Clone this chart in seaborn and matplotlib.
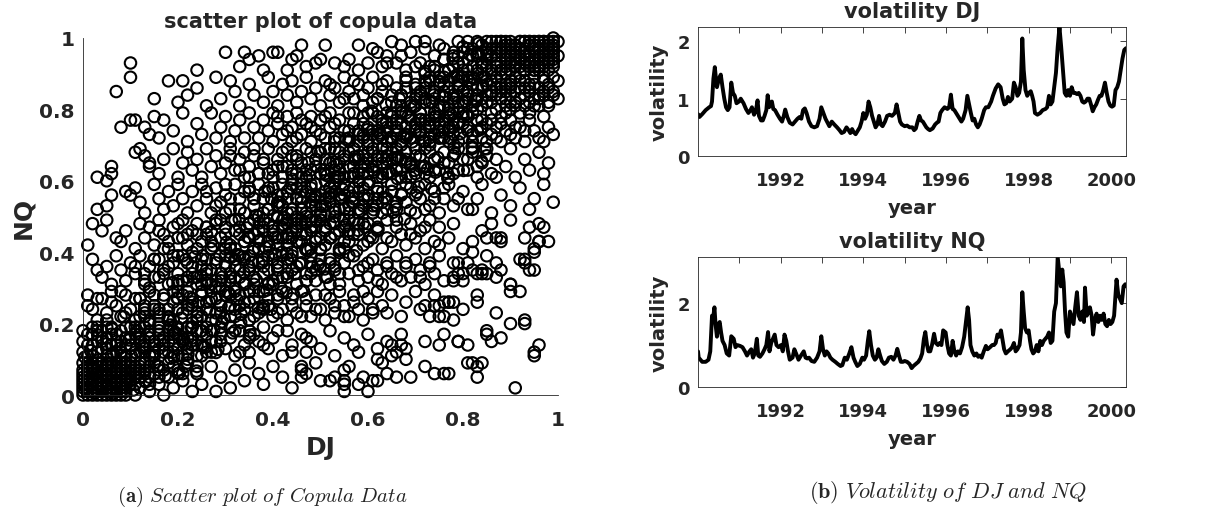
import matplotlib
matplotlib.use("Agg")
import matplotlib.pyplot as plt
import numpy as np
import pandas as pd
import seaborn as sns

# ---- copula sample (DJ, NQ) in percent, one string per NQ band
copula_bands = [
    # NQ 0.9 - 1.0
    "10,93 24,91 30,96 34,96 37,95 40,96 41,96 44,94 45,95 46,98 33,92 38,91 35,94 43,91 47,92 49,93 "
    "51,98 50,94 53,93 55,92 56,94 58,98 58,91 60,93 62,96 63,92 64,95 65,99 66,93 67,98 68,91 69,96 "
    "70,99 71,93 72,97 73,92 74,95 75,98 76,94 77,91 78,96 79,99 80,93 81,97 82,95 83,99 83,91 84,93 "
    "85,97 86,95 86,91 87,99 88,93 88,97 89,95 90,91 90,98 91,94 91,96 92,92 92,99 93,95 93,97 94,93 "
    "94,98 95,91 95,96 96,94 96,99 97,92 97,97 98,95 98,93 99,99 99,96 96,97 95,98 94,95 93,99 92,95 "
    "91,98 89,92 90,96 97,95 98,98 99,94 99,92 96,92 95,94",
    "61,97 64,93 67,95 70,92 72,99 74,91 76,97 78,92 79,95 81,91 81,99 83,96 84,92 85,94 85,99 86,97 "
    "87,92 87,95 88,91 88,99 89,94 89,97 90,93 90,95 91,92 91,97 92,94 92,97 93,91 93,93 94,96 94,99 "
    "95,93 95,97 96,91 96,95 97,94 97,99 98,91 98,96 99,93 99,97 100,95 100,99 97,96 95,92 93,96 91,93 "
    "89,99 87,97",
    # NQ 0.8 - 0.9
    "10,89 07,85 18,88 21,88 28,89 31,88 15,83 20,82 22,84 24,86 26,81 29,83 32,85 33,81 35,87 36,84 "
    "38,82 39,89 40,85 41,81 42,87 43,84 44,88 45,82 46,85 47,89 48,83 49,86 50,81 51,88 52,84 53,86 "
    "54,82 55,89 56,85 57,83 58,87 59,81 60,86 61,89 62,83 63,85 64,88 65,82 66,86 67,84 68,89 69,81 "
    "70,87 71,84 72,86 72,82 73,89 74,83 75,87 76,85 77,81 77,88 78,84 79,86 80,82 80,89 81,85 82,87 "
    "82,81 83,84 84,89 84,86 85,82 86,88 86,84 87,80 87,86 88,89 88,83 89,85 89,81 90,87 90,84 91,89 "
    "91,82 92,86 92,83 93,88 93,81 94,85 94,87 95,83 95,89 96,86 96,81 97,84 97,88 98,82 98,86 99,89 "
    "99,84 96,84 94,82 90,80 88,86",
    "52,87 55,83 57,88 59,84 61,82 63,87 65,84 67,81 68,86 70,83 72,88 74,85 75,81 76,89 78,82 79,87 "
    "80,85 81,83 82,89 83,86 84,81 85,87 85,84 86,82 87,89 88,85 89,87 89,83 90,86 91,81 91,85 92,88 "
    "93,84 94,86 95,81 95,87 96,83 97,89 97,85 98,81 98,87 99,85 100,83 100,88 93,86 90,82",
    # NQ 0.7 - 0.8
    "08,75 10,77 11,77 15,78 17,77 13,75 14,73 16,72 19,74 21,79 22,71 24,76 25,73 27,79 28,72 29,75 "
    "30,78 31,71 32,74 33,77 34,72 35,79 36,75 37,72 38,77 39,74 40,71 40,79 41,76 42,73 43,78 44,71 "
    "44,75 45,79 46,73 47,76 48,71 48,78 49,74 50,77 51,72 52,79 52,75 53,71 54,77 55,74 56,79 56,72 "
    "57,76 58,73 59,78 60,71 60,75 61,79 62,74 63,77 63,72 64,75 65,79 66,73 66,77 67,71 68,75 69,78 "
    "69,72 70,76 71,79 71,73 72,75 73,77 73,71 74,79 75,74 75,72 76,77 77,75 77,71 78,79 78,73 79,76 "
    "80,72 80,78 81,75 82,71 82,79 83,74 84,77 84,72 85,76 86,79 86,73 87,75 88,71 88,78 89,74 90,77 "
    "91,72 92,79 92,75 93,71 94,77 95,74 96,72 97,78 98,75 99,73 97,71",
    "41,78 43,74 45,72 46,77 48,75 50,73 51,78 53,76 54,72 56,74 57,79 58,71 59,76 61,73 62,78 64,71 "
    "65,76 66,74 67,79 68,72 70,74 71,77 72,71 73,75 74,78 75,76 76,72 77,79 78,75 79,71 80,76 81,78 "
    "82,73 83,77 84,75 85,71 86,77 87,72 88,76 89,79 90,73 91,75 93,74 94,79",
    # NQ 0.6 - 0.7
    "06,64 06,62 03,61 12,69 13,67 14,65 11,68 14,64 16,62 17,66 19,69 20,61 21,65 22,68 23,63 24,66 "
    "25,61 26,69 27,64 28,67 29,62 30,65 31,69 32,63 33,66 34,61 34,68 35,64 36,67 37,62 38,65 39,69 "
    "40,63 41,66 42,61 42,68 43,64 44,67 45,62 46,65 47,69 47,61 48,63 49,66 50,68 51,62 52,65 53,69 "
    "53,61 54,63 55,67 56,64 57,61 57,69 58,66 59,62 60,68 61,64 62,61 62,67 63,65 64,69 65,62 66,66 "
    "67,63 68,68 68,61 69,65 70,62 71,67 72,64 72,69 73,61 74,66 75,63 76,68 77,61 77,65 78,62 79,69 "
    "80,66 81,63 82,68 83,61 84,65 85,69 86,62 87,66 89,64 90,69 91,61 93,66 94,63 96,68 97,62 98,65",
    "31,67 33,63 35,61 36,69 38,66 39,62 41,64 43,69 44,63 45,66 46,61 48,68 49,64 50,62 51,66 52,69 "
    "54,65 55,61 56,68 57,64 58,62 59,67 60,64 61,69 63,62 64,66 65,68 66,63 67,66 69,61 70,67 71,64 "
    "72,62 73,68 74,63 76,65 78,67 79,63 81,66 83,64 85,67 87,61",
    # NQ 0.5 - 0.6
    "05,60 06,56 09,57 10,56 05,53 03,52 11,58 12,54 13,51 15,59 16,55 17,52 18,57 19,53 20,59 21,55 "
    "22,51 23,57 24,53 25,59 26,55 27,51 28,58 29,54 30,56 31,52 32,59 33,55 34,51 35,57 36,53 37,59 "
    "38,55 39,52 40,58 41,54 42,56 43,51 44,59 45,55 46,52 47,57 48,53 48,59 49,56 50,51 51,57 52,54 "
    "53,59 54,52 55,56 56,53 57,58 58,51 59,55 60,59 61,53 62,57 63,51 64,55 65,59 66,52 67,56 68,54 "
    "69,58 70,51 71,55 72,59 73,53 74,57 75,51 76,55 77,59 78,53 80,57 81,52 83,55 84,59 86,51 88,56 "
    "90,53 92,58 94,52 95,55 97,59 99,54",
    "26,57 28,53 30,59 31,55 33,52 35,58 36,55 38,51 39,57 41,53 42,59 43,55 44,52 45,58 46,54 47,51 "
    "48,56 49,59 50,53 51,55 52,58 53,52 54,56 55,59 56,51 57,54 58,57 59,53 60,56 61,51 62,55 64,52 "
    "65,57 66,54 68,59 70,56 72,52 74,55 76,58 79,55 82,52",
    # NQ 0.4 - 0.5
    "02,48 01,42 04,46 07,44 05,49 08,43 09,46 11,41 12,48 13,44 14,47 15,42 16,49 17,45 18,41 19,47 "
    "20,44 21,49 22,42 23,46 24,48 25,43 26,45 27,41 28,48 29,44 30,47 31,42 32,49 33,45 34,43 35,48 "
    "36,41 37,46 38,49 39,43 40,47 41,44 42,49 43,42 44,46 45,48 46,43 47,45 48,41 48,49 49,47 50,44 "
    "51,42 52,48 53,45 54,41 55,47 56,43 57,49 58,45 59,42 60,48 61,44 62,46 63,41 64,49 65,43 66,47 "
    "67,45 68,42 69,48 70,44 71,46 72,41 73,49 74,43 75,47 77,44 78,48 80,41 82,43 84,46 86,48 87,44 "
    "88,43 90,49 93,44 95,41 96,43 97,47 98,43",
    "16,46 18,43 20,48 22,45 24,41 26,47 27,43 29,49 30,45 32,41 33,47 35,44 36,49 37,43 38,46 39,48 "
    "40,45 41,42 42,47 43,49 43,45 44,44 45,47 46,49 46,45 47,48 48,46 49,43 50,49 51,46 52,44 53,48 "
    "55,43 56,46 58,48 60,43 62,47 64,44 66,49 69,45 72,47 75,42",
    # NQ 0.3 - 0.4
    "02,38 03,35 05,36 06,31 04,33 07,39 08,35 09,32 10,37 11,34 12,39 13,31 14,36 15,33 16,38 17,35 "
    "18,31 19,37 20,34 21,39 22,32 23,36 24,33 25,38 26,35 27,31 28,37 29,34 30,39 31,32 32,36 33,33 "
    "34,38 35,35 36,31 37,37 38,34 39,39 40,32 41,36 42,33 43,38 44,35 45,31 46,37 47,34 48,39 49,32 "
    "50,36 51,33 52,38 53,35 54,31 55,37 56,34 57,39 58,32 59,36 60,33 61,38 62,35 63,31 64,37 65,34 "
    "66,39 67,32 68,36 69,33 70,38 71,35 72,31 73,37 74,34 75,39 76,32 78,37 79,34 80,32 82,35 84,34 "
    "85,39 87,37 88,35 90,31 92,38 93,37 94,35",
    "11,36 13,32 15,38 17,34 19,39 20,32 22,37 23,34 25,31 26,38 27,35 29,32 30,37 31,34 33,39 34,31 "
    "35,36 36,33 38,38 39,35 40,31 41,37 43,34 44,39 45,36 47,32 48,37 49,35 50,38 52,31 53,36 54,34 "
    "56,39 58,35 60,37 62,32 64,36 66,33 68,37 71,33 73,36",
    # NQ 0.2 - 0.3
    "01,28 02,24 03,21 04,27 05,23 06,29 07,25 08,22 09,28 10,24 11,21 12,27 13,23 14,29 15,25 16,22 "
    "17,28 18,24 19,21 20,27 21,23 22,29 23,25 24,22 25,28 26,24 27,21 28,27 29,23 30,29 31,25 32,22 "
    "33,28 34,24 35,21 36,27 37,23 38,29 39,25 40,22 41,28 42,24 43,21 44,27 45,23 46,29 47,25 48,22 "
    "49,28 50,24 51,21 52,27 53,23 54,29 55,25 56,22 57,28 58,24 59,21 60,27 61,23 62,29 63,25 65,28 "
    "67,22 68,26 70,29 71,24 72,25 74,28 75,22 77,26 78,21 80,24 83,28 83,26 87,23 90,29 92,29",
    "01,25 03,27 05,21 06,26 08,29 09,23 11,27 12,22 13,25 15,28 16,24 18,21 19,26 20,29 22,24 23,27 "
    "24,21 26,26 27,29 28,23 29,25 31,28 32,24 34,26 35,29 36,22 38,25 39,27 41,23 42,29 44,25 46,22 "
    "47,27 49,24 51,28 53,25 55,22 57,26 59,29 61,24 64,23",
    # NQ 0.1 - 0.2
    "00,12 01,17 01,14 02,19 02,11 03,15 03,18 04,13 04,16 05,11 05,19 06,14 06,17 07,12 07,15 08,18 "
    "08,11 09,14 09,16 10,19 10,13 11,11 11,17 12,15 12,12 13,19 13,14 14,17 14,11 15,15 16,13 16,19 "
    "17,16 18,12 18,18 19,14 20,17 20,11 21,15 22,19 22,13 23,16 24,11 25,18 25,14 26,17 27,12 28,15 "
    "29,19 30,13 31,16 32,11 33,18 34,14 35,12 36,17 37,15 38,19 39,13 40,16 42,11 43,18 44,14 46,17 "
    "47,12 48,15 50,13 52,18 53,11 55,16 57,14 58,12 60,17 62,13 64,15 65,11 66,12 67,14 72,15 75,14 "
    "79,15 81,14 85,17 86,15 88,16 96,14 95,11",
    "00,15 00,18 01,11 02,14 02,17 03,12 03,19 04,15 04,18 05,13 05,16 06,11 06,19 07,14 07,17 08,12 "
    "08,15 09,19 09,11 10,16 10,14 11,12 11,19 12,17 13,12 13,15 14,18 15,11 15,14 16,17 17,12 18,15 "
    "19,18 20,13 21,11 22,16 23,19 24,14 26,12 27,18 29,15 31,19 33,12 35,16 38,14 41,18 44,12 47,16",
    # NQ 0.0 - 0.1
    "00,00 00,02 00,04 00,07 01,01 01,03 01,05 01,08 02,00 02,02 02,06 02,09 03,01 03,04 03,07 04,00 "
    "04,03 04,05 04,08 05,02 05,06 05,09 06,01 06,04 06,07 07,00 07,03 07,08 08,02 08,05 08,09 09,01 "
    "09,06 10,03 10,08 11,00 11,05 12,02 12,07 13,04 13,09 14,01 15,06 16,03 16,08 17,00 18,05 19,02 "
    "20,07 21,04 22,09 23,01 24,06 25,03 27,08 28,01 29,05 31,02 32,07 34,04 35,09 37,06 38,03 40,08 "
    "42,05 44,02 46,08 47,06 49,09 50,04 53,05 55,01 56,08 58,03 60,01 61,04 63,09 64,06 68,10 69,05 "
    "72,08 76,06 77,06 81,09 83,08 84,09 91,02",
    "00,01 00,03 00,05 00,06 00,09 01,00 01,02 01,04 01,06 01,07 01,09 02,01 02,03 02,04 02,05 02,07 "
    "02,08 03,00 03,02 03,03 03,05 03,06 03,08 03,09 04,01 04,02 04,04 04,06 04,07 04,09 05,00 05,01 "
    "05,03 05,04 05,05 05,07 05,08 06,00 06,02 06,03 06,05 06,06 06,08 06,09 07,01 07,02 07,04 07,05 "
    "07,06 07,07 07,09 08,00 08,01 08,03 08,04 08,06 08,07 08,08 09,00 09,02 09,03 09,04 09,05 09,07 "
    "09,08 09,09 10,04 10,05 10,06 10,07 10,09 11,03 11,06 11,07 11,08 12,05 12,08 12,09 13,06 13,07 "
    "14,05 14,08 15,09 16,05 17,07 19,08 21,06 24,08 13,13 14,16 15,12 16,18 17,14 12,16 14,20 18,21 "
    "19,16 16,23 20,19 11,21 13,24",
    "0.7,1.8 2.4,0.6 1.3,4.2 3.8,2.9 5.6,1.1 4.7,5.3 6.9,3.4 2.2,7.6 8.3,2.2 7.1,6.8 9.4,4.5 5.2,8.7 "
    "10.6,1.4 3.3,9.8 11.8,6.1 8.8,9.1 6.4,11.7 13.2,3.7 10.2,10.9 1.6,12.4 12.5,13.6 4.9,14.3 "
    "15.7,8.2 9.7,15.4 0.4,10.6 14.6,11.2 7.8,13.1 17.3,5.4 3.1,16.8 11.4,17.9 16.2,15.3 19.1,10.7 "
    "6.1,18.5 18.4,19.6 13.9,20.7 21.5,14.2 8.6,21.9 22.8,18.8 2.7,5.7 6.3,0.4",
    # diagonal band, x 0.12 - 0.49
    "12,05 12,19 12,27 13,09 13,22 13,34 14,03 14,16 14,30 15,11 15,24 15,38 16,07 16,20 16,33 17,14 "
    "17,27 17,41 18,09 18,22 18,36 19,17 19,29 19,12 20,24 20,06 20,39 20,31 21,15 21,28 21,44 22,19 "
    "22,33 22,10 23,26 23,40 23,14 24,31 24,18 24,45 25,22 25,36 25,11 25,29 26,34 26,19 26,47 27,27 "
    "27,41 27,15 28,32 28,21 28,49 28,38 29,25 29,44 29,17 30,36 30,28 30,51 31,41 31,22 31,33 32,29 "
    "32,46 32,38 32,18 33,35 33,52 33,25 34,43 34,31 34,57 35,39 35,26 35,48 35,21 36,45 36,33 36,55 "
    "37,41 37,29 37,50 37,62 38,47 38,36 38,24 39,52 39,43 39,31 39,58 40,46 40,38 40,61 41,50 41,35 "
    "41,56 41,27 42,44 42,53 42,39 42,64 43,48 43,57 43,33 44,51 44,46 44,62 44,40 45,55 45,43 45,49 "
    "45,67 46,48 46,52 46,37 46,59 47,50 47,45 47,63 47,41 48,47 48,54 48,58 48,34 49,53 49,44 49,66 "
    "49,49",
    # diagonal band, x 0.50 - 0.99
    "50,56 50,41 50,62 50,49 51,47 51,60 51,53 51,69 52,58 52,44 52,65 52,37 53,50 53,63 53,57 53,72 "
    "54,61 54,46 54,68 54,55 55,52 55,66 55,59 55,41 56,64 56,49 56,71 56,57 57,55 57,69 57,62 57,45 "
    "58,67 58,52 58,74 58,60 59,58 59,72 59,65 59,48 60,70 60,55 60,62 60,79 61,63 61,74 61,51 61,68 "
    "62,72 62,58 62,66 62,83 63,61 63,76 63,69 63,54 64,74 64,62 64,79 64,67 65,66 65,78 65,57 65,71 "
    "66,75 66,63 66,81 66,69 67,70 67,84 67,61 67,76 68,79 68,66 68,73 68,88 69,72 69,82 69,64 69,77 "
    "70,81 70,69 70,86 70,75 71,74 71,85 71,67 71,79 72,83 72,71 72,77 72,90 73,76 73,88 73,70 73,82 "
    "74,85 74,73 74,79 74,92 75,78 75,89 75,72 75,84 76,87 76,75 76,81 76,94 77,80 77,91 77,74 77,86 "
    "78,89 78,77 78,83 78,95 79,82 79,93 79,76 79,88 80,91 80,79 80,85 80,96 81,84 81,94 81,78 81,89 "
    "82,92 82,81 82,87 82,97 83,86 83,95 83,80 83,90 84,93 84,83 84,89 84,98 85,88 85,96 85,82 85,92 "
    "86,95 86,85 86,90 86,99 87,89 87,97 87,84 87,93 88,96 88,87 88,91 88,99 89,90 89,98 89,86 89,94 "
    "90,97 90,88 90,93 90,99 91,92 91,98 91,89 91,95 92,97 92,90 92,94 92,99 93,93 93,99 93,91 93,96 "
    "94,98 94,92 94,95 94,99 95,94 95,99 95,97 95,91 96,99 96,95 96,97 96,92 97,96 97,99 97,93 97,98 "
    "98,99 98,94 98,97 98,96 99,97 99,100 99,95 99,98",
    # dense middle of the band
    "18.0,21.7 18.5,10.3 18.9,31.5 19.4,17.5 19.8,27.2 20.3,6.2 20.7,21.5 21.2,15.6 21.6,37.9 "
    "22.1,11.4 22.5,27.4 23.0,20.2 23.4,32.9 23.9,6.7 24.3,25.9 24.8,17.9 25.2,39.0 25.7,13.3 "
    "26.1,32.2 26.6,26.1 27.0,45.7 27.5,18.2 27.9,30.3 28.4,12.8 28.8,39.0 29.3,33.0 29.7,21.5 "
    "30.2,42.8 30.6,28.7 31.1,38.5 31.5,17.4 32.0,32.8 32.4,26.8 32.9,49.2 33.3,22.6 33.8,38.7 "
    "34.2,31.4 34.7,44.2 35.1,17.9 35.6,37.2 36.0,29.1 36.5,50.3 36.9,24.5 37.4,43.5 37.8,37.3 "
    "38.3,57.0 38.7,29.4 39.2,41.6 39.6,24.0 40.1,50.3 40.5,44.2 41.0,32.8 41.4,54.0 41.9,40.0 "
    "42.3,49.7 42.8,28.7 43.2,44.0 43.7,38.1 44.1,60.4 44.6,33.9 45.0,49.9 45.5,42.7 45.9,55.4 "
    "46.4,29.2 46.8,48.4 47.3,40.4 47.7,61.5 48.2,35.8 48.6,54.7 49.1,48.6 49.5,68.2 50.0,40.7 "
    "50.4,52.8 50.9,35.3 51.3,61.5 51.8,55.5 52.2,44.0 52.7,65.3 53.1,51.2 53.6,61.0 54.0,39.9 "
    "54.5,55.3 54.9,49.3 55.4,71.7 55.8,45.1 56.3,61.2 56.7,53.9 57.2,66.7 57.6,40.4 58.1,59.7 "
    "58.5,51.6 59.0,72.8 59.4,47.0 59.9,66.0 60.3,59.8 60.8,79.5 61.2,51.9 61.7,64.1 62.1,46.5 "
    "62.6,72.8 63.0,66.7 63.5,55.3 63.9,76.5 64.4,62.5 64.8,72.2 65.3,51.2 65.7,66.5 66.2,60.6 "
    "66.6,82.9 67.1,56.4 67.5,72.4 68.0,65.2 68.4,77.9 68.9,51.7 69.3,70.9 69.8,62.9 70.2,84.0 "
    "70.7,58.3 71.1,77.2 71.6,71.1 72.0,90.7 72.5,63.2 72.9,75.3 73.4,57.8 73.8,84.0 74.3,78.0 "
    "74.7,66.5 75.2,87.8 75.6,73.7 76.1,83.5 76.5,62.4 77.0,77.8 77.4,71.8 77.9,94.2 78.3,67.6 "
    "78.8,83.7 79.2,76.4 79.7,89.2 80.1,62.9 80.6,82.2 81.0,74.1 81.5,95.3 81.9,69.5 82.4,88.5 "
    "82.8,82.3 83.3,98.5 83.7,74.4 84.2,86.6 84.6,69.0 85.1,95.3",
    "20.2,15.9 20.9,32.0 21.5,8.0 22.2,25.1 22.8,15.1 23.5,38.7 24.1,23.2 24.8,33.4 25.4,13.6 "
    "26.1,31.4 26.7,23.3 27.4,41.8 28.0,11.9 28.7,29.9 29.3,20.5 30.0,40.9 30.6,24.4 31.3,48.8 "
    "31.9,29.8 32.6,39.3 33.2,20.3 33.9,34.2 34.5,46.8 35.2,16.8 35.8,40.2 36.5,32.2 37.1,48.2 "
    "37.8,24.3 38.4,41.3 39.1,31.4 39.7,54.9 40.4,39.5 41.0,49.6 41.7,29.9 42.3,47.6 43.0,39.6 "
    "43.6,58.0 44.3,28.2 44.9,46.1 45.6,36.8 46.2,57.1 46.9,40.7 47.5,65.0 48.2,46.1 48.8,55.5 "
    "49.5,36.6 50.1,50.4 50.8,63.1 51.4,33.0 52.1,56.5 52.7,48.4 53.4,64.5 54.0,40.5 54.7,57.6 "
    "55.3,47.6 56.0,71.2 56.6,55.7 57.3,65.9 57.9,46.1 58.6,63.9 59.2,55.8 59.9,74.3 60.5,44.4 "
    "61.2,62.4 61.8,53.0 62.5,73.4 63.1,56.9 63.8,81.3 64.4,62.3 65.1,71.8 65.7,52.8 66.4,66.7 "
    "67.0,79.3 67.7,49.3 68.3,72.7 69.0,64.7 69.6,80.7 70.3,56.8 70.9,73.8 71.6,63.9 72.2,87.4 "
    "72.9,72.0 73.5,82.1 74.2,62.4 74.8,80.1 75.5,72.1 76.1,90.5 76.8,60.7 77.4,78.6 78.1,69.3 "
    "78.7,89.6 79.4,73.2 80.0,97.5 80.7,78.6 81.3,88.0 82.0,69.1 82.6,82.9 83.3,95.6 83.9,65.5 "
    "84.6,89.0",
    # sparse lower-right points
    "74,06 83,05 82,09 79,15 76,17 85,18 90,20 93,21 93,20 95,12 77,26 78,32 90,31 95,35 93,38 95,40 "
    "96,43 94,47 96,48 88,44 85,44 82,40 84,35 83,34 87,33 85,34 80,34 78,33 81,37 79,37 76,26 78,26 "
    "75,25 76,22 74,25 73,22 67,17 65,14 68,13 62,10 66,05 62,04 59,05 55,04 55,03 52,04 55,07 46,07 "
    "46,05",
]

# ---- volatility series: years after 1990 and values
dj_t = [0.000, 0.034, 0.102, 0.186, 0.271, 0.314, 0.339, 0.373, 0.407, 0.441,
        0.458, 0.508, 0.551, 0.593, 0.636, 0.678, 0.720, 0.763, 0.805, 0.847,
        0.890, 0.932, 0.992, 1.034, 1.102, 1.161, 1.220, 1.271, 1.305, 1.356,
        1.398, 1.441, 1.475, 1.525, 1.568, 1.610, 1.653, 1.686, 1.720, 1.754,
        1.788, 1.822, 1.864, 1.924, 1.983, 2.034, 2.076, 2.110, 2.161, 2.220,
        2.288, 2.347, 2.407, 2.458, 2.500, 2.542, 2.585, 2.627, 2.686, 2.746,
        2.814, 2.881, 2.941, 2.983, 3.034, 3.085, 3.136, 3.178, 3.237, 3.297,
        3.364, 3.424, 3.475, 3.534, 3.593, 3.644, 3.686, 3.729, 3.763, 3.814,
        3.873, 3.915, 3.958, 4.000, 4.042, 4.085, 4.127, 4.169, 4.212, 4.254,
        4.297, 4.339, 4.381, 4.424, 4.466, 4.525, 4.576, 4.636, 4.695, 4.763,
        4.805, 4.847, 4.890, 4.932, 5.000, 5.059, 5.119, 5.186, 5.229, 5.271,
        5.314, 5.356, 5.398, 5.441, 5.483, 5.525, 5.568, 5.610, 5.678, 5.737,
        5.780, 5.822, 5.864, 5.907, 5.966, 6.034, 6.076, 6.119, 6.161, 6.203,
        6.271, 6.331, 6.373, 6.415, 6.475, 6.517, 6.559, 6.602, 6.644, 6.686,
        6.729, 6.771, 6.814, 6.864, 6.924, 6.966, 7.025, 7.093, 7.136, 7.203,
        7.263, 7.322, 7.373, 7.415, 7.458, 7.500, 7.542, 7.602, 7.644, 7.686,
        7.729, 7.771, 7.814, 7.847, 7.881, 7.924, 7.966, 8.008, 8.051, 8.085,
        8.119, 8.153, 8.212, 8.280, 8.339, 8.407, 8.449, 8.492, 8.534, 8.576,
        8.619, 8.661, 8.703, 8.746, 8.788, 8.831, 8.873, 8.915, 8.958, 9.000,
        9.042, 9.085, 9.127, 9.169, 9.212, 9.254, 9.297, 9.339, 9.381, 9.424,
        9.466, 9.508, 9.551, 9.593, 9.636, 9.678, 9.720, 9.763, 9.805, 9.847,
        9.890, 9.932, 9.975, 10.017, 10.059, 10.102, 10.144, 10.186, 10.229, 10.271,
        10.314, 10.356]
dj_vol = [0.73, 0.68, 0.73, 0.80, 0.85, 0.87, 0.95, 1.35, 1.55, 1.30,
          1.20, 1.35, 1.42, 1.20, 1.00, 0.85, 0.80, 0.85, 1.28, 1.10,
          1.05, 0.92, 0.95, 1.00, 0.92, 0.82, 0.75, 0.80, 0.85, 0.72,
          0.78, 0.97, 0.70, 0.62, 0.62, 0.70, 0.80, 1.06, 0.85, 0.90,
          0.95, 0.82, 0.80, 0.72, 0.65, 0.60, 0.70, 0.81, 0.68, 0.58,
          0.55, 0.60, 0.65, 0.68, 0.65, 0.80, 0.83, 0.75, 0.60, 0.52,
          0.50, 0.52, 0.65, 0.85, 0.75, 0.65, 0.58, 0.52, 0.60, 0.55,
          0.50, 0.45, 0.40, 0.42, 0.50, 0.45, 0.40, 0.47, 0.42, 0.38,
          0.45, 0.50, 0.60, 0.75, 0.65, 0.72, 0.95, 0.85, 0.70, 0.60,
          0.50, 0.55, 0.70, 0.55, 0.52, 0.60, 0.70, 0.72, 0.70, 0.75,
          0.90, 0.75, 0.60, 0.55, 0.52, 0.53, 0.50, 0.50, 0.45, 0.48,
          0.60, 0.70, 0.62, 0.60, 0.55, 0.50, 0.47, 0.45, 0.48, 0.55,
          0.58, 0.60, 0.75, 0.80, 0.85, 0.82, 0.85, 1.07, 0.82, 0.80,
          0.72, 0.65, 0.60, 0.65, 0.80, 1.05, 0.90, 0.75, 0.62, 0.65,
          0.55, 0.50, 0.55, 0.65, 0.80, 0.85, 0.85, 0.95, 1.05, 1.18,
          1.25, 1.20, 1.00, 0.90, 0.92, 1.03, 0.95, 1.00, 1.28, 1.20,
          1.05, 1.10, 1.30, 2.05, 1.50, 1.15, 1.05, 1.10, 1.13, 1.05,
          0.95, 0.75, 0.72, 0.75, 0.80, 0.82, 0.85, 1.05, 0.90, 0.95,
          1.20, 1.45, 1.90, 2.25, 1.90, 1.50, 1.10, 1.05, 1.15, 1.05,
          1.20, 1.10, 1.10, 1.08, 1.10, 1.05, 0.95, 0.93, 0.95, 1.00,
          1.00, 0.90, 0.78, 0.85, 0.90, 0.98, 1.05, 1.05, 1.15, 1.28,
          1.10, 0.95, 0.88, 0.86, 0.88, 1.15, 1.20, 1.30, 1.50, 1.70,
          1.85, 1.88]

nq_t = [0.000, 0.017, 0.059, 0.102, 0.186, 0.254, 0.297, 0.339, 0.373, 0.398,
        0.424, 0.458, 0.492, 0.525, 0.559, 0.593, 0.644, 0.695, 0.754, 0.805,
        0.864, 0.907, 0.949, 1.017, 1.076, 1.136, 1.186, 1.246, 1.288, 1.331,
        1.373, 1.424, 1.458, 1.500, 1.559, 1.610, 1.653, 1.695, 1.729, 1.771,
        1.814, 1.856, 1.898, 1.949, 2.008, 2.051, 2.093, 2.136, 2.178, 2.220,
        2.288, 2.331, 2.373, 2.432, 2.492, 2.559, 2.602, 2.644, 2.686, 2.746,
        2.814, 2.881, 2.941, 2.983, 3.025, 3.068, 3.110, 3.153, 3.203, 3.254,
        3.322, 3.381, 3.449, 3.492, 3.551, 3.602, 3.661, 3.712, 3.763, 3.805,
        3.856, 3.915, 3.975, 4.017, 4.068, 4.110, 4.144, 4.186, 4.229, 4.280,
        4.322, 4.364, 4.407, 4.449, 4.508, 4.568, 4.619, 4.678, 4.729, 4.780,
        4.822, 4.864, 4.907, 4.958, 5.000, 5.059, 5.119, 5.169, 5.212, 5.271,
        5.331, 5.381, 5.424, 5.466, 5.500, 5.542, 5.576, 5.619, 5.661, 5.712,
        5.754, 5.805, 5.847, 5.890, 5.932, 5.992, 6.034, 6.076, 6.119, 6.161,
        6.203, 6.246, 6.288, 6.339, 6.390, 6.441, 6.483, 6.525, 6.559, 6.593,
        6.636, 6.686, 6.737, 6.780, 6.822, 6.864, 6.915, 6.966, 7.008, 7.068,
        7.119, 7.161, 7.203, 7.246, 7.288, 7.331, 7.364, 7.407, 7.449, 7.500,
        7.559, 7.602, 7.644, 7.686, 7.729, 7.780, 7.814, 7.847, 7.881, 7.915,
        7.958, 8.000, 8.034, 8.068, 8.110, 8.153, 8.195, 8.237, 8.280, 8.322,
        8.364, 8.407, 8.449, 8.492, 8.534, 8.576, 8.619, 8.661, 8.703, 8.746,
        8.780, 8.814, 8.847, 8.881, 8.915, 8.958, 9.000, 9.042, 9.085, 9.127,
        9.169, 9.212, 9.254, 9.297, 9.339, 9.364, 9.407, 9.449, 9.483, 9.525,
        9.559, 9.602, 9.644, 9.686, 9.729, 9.771, 9.814, 9.856, 9.898, 9.941,
        9.983, 10.025, 10.068, 10.102, 10.127, 10.169, 10.212, 10.254, 10.297, 10.339,
        10.356]
nq_vol = [0.85, 0.70, 0.65, 0.60, 0.60, 0.65, 0.85, 1.70, 1.70, 1.90,
          1.50, 1.20, 1.50, 1.55, 1.30, 1.10, 1.00, 0.80, 0.75, 1.21,
          1.15, 0.95, 1.00, 0.98, 0.95, 0.85, 0.75, 0.85, 0.90, 0.70,
          0.80, 1.15, 0.75, 0.72, 0.80, 0.90, 1.00, 1.31, 0.85, 1.05,
          1.15, 1.25, 1.00, 0.95, 1.00, 0.85, 1.25, 1.10, 0.85, 0.65,
          0.70, 0.90, 0.80, 0.65, 0.75, 0.85, 0.70, 0.68, 0.70, 0.62,
          0.60, 0.70, 0.85, 1.21, 0.90, 0.75, 0.85, 0.80, 0.70, 0.65,
          0.60, 0.55, 0.50, 0.52, 0.70, 0.65, 0.80, 0.95, 0.70, 0.60,
          0.50, 0.55, 0.70, 0.65, 0.75, 1.10, 1.33, 1.00, 0.75, 0.65,
          0.70, 0.90, 0.75, 0.62, 0.55, 0.60, 0.70, 0.72, 0.65, 0.75,
          0.91, 0.75, 0.60, 0.60, 0.62, 0.60, 0.55, 0.45, 0.50, 0.55,
          0.60, 0.68, 0.80, 1.15, 1.31, 1.00, 0.85, 0.85, 1.00, 1.27,
          1.05, 1.00, 1.05, 1.00, 1.35, 1.30, 1.00, 0.80, 0.75, 1.10,
          0.85, 0.75, 0.85, 0.80, 0.95, 1.20, 1.55, 1.90, 1.60, 1.00,
          0.85, 0.75, 0.80, 0.72, 0.75, 0.70, 0.85, 0.98, 0.90, 0.95,
          1.00, 1.00, 1.05, 1.25, 1.20, 1.35, 1.15, 0.90, 0.80, 0.85,
          0.90, 0.95, 1.05, 0.85, 0.90, 1.00, 1.30, 2.26, 1.80, 1.40,
          1.30, 1.35, 1.10, 0.90, 0.80, 0.85, 1.00, 0.85, 1.10, 1.00,
          1.10, 1.15, 1.20, 1.30, 1.05, 1.10, 1.80, 2.00, 3.10, 2.70,
          2.40, 2.80, 2.50, 1.80, 1.30, 1.20, 1.80, 1.65, 1.50, 1.90,
          2.26, 1.70, 1.60, 1.80, 1.55, 2.37, 1.70, 1.80, 1.90, 1.70,
          1.25, 1.60, 1.75, 1.55, 1.70, 1.60, 1.75, 1.50, 1.45, 1.60,
          1.50, 1.55, 1.70, 2.20, 2.56, 2.20, 2.10, 2.00, 2.40, 2.45,
          2.40]

base_year = 1990
year_ticks = list(range(1991, 2001))
year_labels = ["" if y % 2 else str(y) for y in year_ticks]
unit_ticks = [0, 0.2, 0.4, 0.6, 0.8, 1]
unit_labels = ["0", "0.2", "0.4", "0.6", "0.8", "1"]

# parse the copula strings
pairs = [tok.split(",") for band in copula_bands for tok in band.split()]
copula = pd.DataFrame({"DJ": [float(a) / 100 for a, b in pairs],
                       "NQ": [float(b) / 100 for a, b in pairs]})
dj = pd.DataFrame({"year": [base_year + t for t in dj_t], "vol": dj_vol})
nq = pd.DataFrame({"year": [base_year + t for t in nq_t], "vol": nq_vol})

sns.set_style("white")
plt.rcParams["font.family"] = ["DejaVu Sans"]
plt.rcParams["font.weight"] = "bold"
plt.rcParams["mathtext.fontset"] = "cm"
grey = "0.15"

W, H = 1210, 510
fig = plt.figure(figsize=(W / 100, H / 100), dpi=100)
ax1 = fig.add_axes([83 / W, 1 - 396 / H, 475 / W, 357 / H])
ax2 = fig.add_axes([698 / W, 1 - 157 / H, 428 / W, 129 / H])
ax3 = fig.add_axes([698 / W, 1 - 388 / H, 428 / W, 130 / H])

# (a) scatter
sns.scatterplot(data=copula, x="DJ", y="NQ", ax=ax1, marker="o", s=68,
                facecolor="none", edgecolor="black", linewidth=1.5, clip_on=False)
ax1.set_xlim(0, 1)
ax1.set_ylim(0, 1)
ax1.set_xticks(unit_ticks, unit_labels)
ax1.set_yticks(unit_ticks, unit_labels)
ax1.tick_params(axis="x", pad=11)
ax1.tick_params(axis="y", pad=6)
ax1.tick_params(direction="in", length=4, width=0.6, colors=grey, labelsize=14.5)
for s in ["top", "right"]:
    ax1.spines[s].set_visible(False)
for s in ["left", "bottom"]:
    ax1.spines[s].set_color(grey)
    ax1.spines[s].set_linewidth(0.6)
ax1.set_title("scatter plot of copula data", fontsize=15, fontweight="bold", pad=8)
ax1.set_xlabel("DJ", fontsize=18, fontweight="bold", color=grey, labelpad=4)
ax1.set_ylabel("NQ", fontsize=18, fontweight="bold", color=grey, labelpad=3)

# (b) volatility lines
for ax, df, name, ytk in [(ax2, dj, "DJ", [0, 1, 2]), (ax3, nq, "NQ", [0, 2])]:
    sns.lineplot(data=df, x="year", y="vol", ax=ax, color="black", linewidth=2.8)
    ax.set_xlim(base_year, base_year + 10.356)
    ax.set_ylim(0, df["vol"].max())
    ax.set_xticks(year_ticks, year_labels)
    ax.set_yticks(ytk)
    ax.tick_params(axis="x", pad=11)
    ax.tick_params(axis="y", pad=6)
    ax.tick_params(direction="in", length=4, width=0.6, colors=grey, labelsize=13,
                   top=True, right=True)
    for s in ax.spines.values():
        s.set_color(grey)
        s.set_linewidth(0.6)
    ax.set_title("volatility " + name, fontsize=15, fontweight="bold", pad=7)
    ax.set_xlabel("year", fontsize=14, fontweight="bold", color=grey, labelpad=6)
    ax.set_ylabel("volatility", fontsize=14, fontweight="bold", color=grey, labelpad=6)

fig.text(262 / W, 1 - 497 / H, r"$\mathbf{(a)}\ \mathit{Scatter\ plot\ of\ Copula\ Data}$",
         ha="center", va="center", fontsize=15)
fig.text(948 / W, 1 - 493 / H, r"$\mathbf{(b)}\ \mathit{Volatility\ of\ DJ\ and\ NQ}$",
         ha="center", va="center", fontsize=16)

fig.savefig("out.png", dpi=100)
